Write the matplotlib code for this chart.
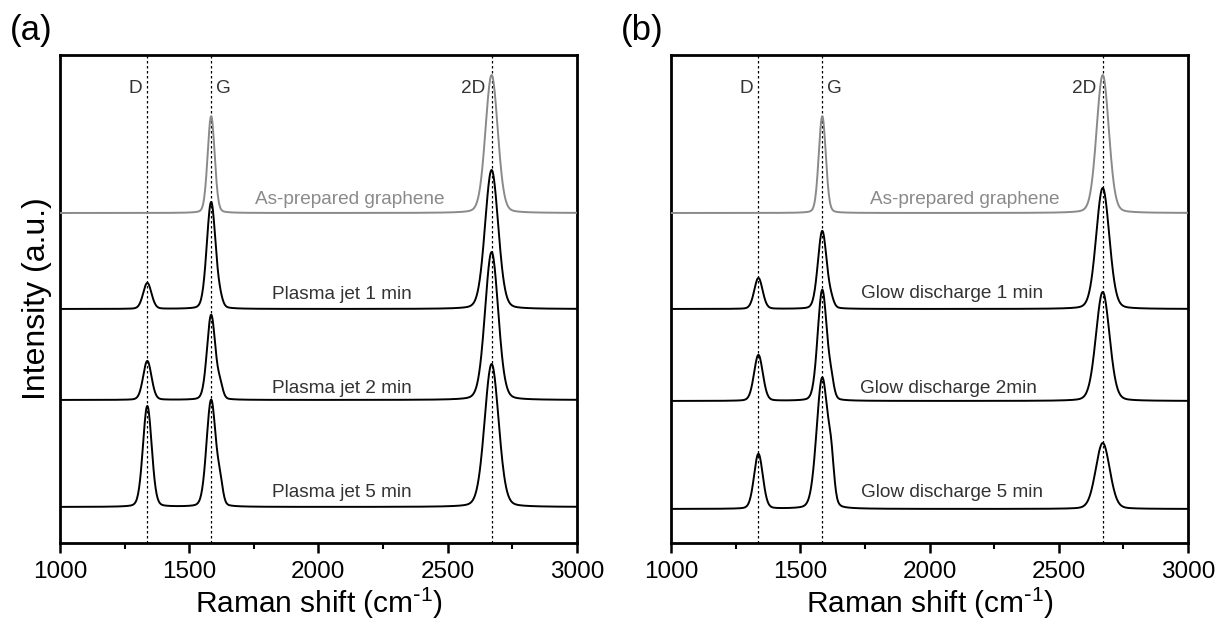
import numpy as np
import matplotlib
matplotlib.use("Agg")
import matplotlib.pyplot as plt

plt.rcParams['font.family'] = ['Liberation Sans', 'DejaVu Sans']
plt.rcParams['mathtext.default'] = 'regular'

# Raman shift grid (cm-1)
shift = np.arange(1000, 3001, 2)

# peak positions (cm-1)
peak_pos = [1338, 1585, 2670]
dprime_pos = 1620

# panel (a) - plasma jet
labels_a = ["As-prepared graphene", "Plasma jet 1 min", "Plasma jet 2 min", "Plasma jet 5 min"]
offset_a = [330, 234, 143, 36]
d_height_a = [0, 26, 39, 101]
g_height_a = [97, 107, 85, 107]
dp_height_a = [0, 6, 12, 18]
d2_height_a = [138, 139, 148, 143]
d_width_a = [36, 38, 38, 40]
g_width_a = [32, 40, 38, 42]
d2_width_a = [56, 60, 60, 64]
label_x_a = [2122, 2091, 2091, 2091]
label_y_a = [339, 244, 150, 46]

# panel (b) - glow discharge
labels_b = ["As-prepared graphene", "Glow discharge 1 min", "Glow discharge 2min", "Glow discharge 5 min"]
offset_b = [330, 234, 142, 34]
d_height_b = [0, 31, 46, 55]
g_height_b = [97, 78, 111, 131]
dp_height_b = [0, 6, 14, 30]
d2_height_b = [138, 121, 109, 66]
d_width_b = [36, 38, 40, 40]
g_width_b = [32, 40, 42, 52]
d2_width_b = [56, 60, 62, 64]
label_x_b = [2137, 2087, 2072, 2087]
label_y_b = [339, 245, 150, 46]

curve_colors = ["#8a8a8a", "black", "black", "black"]
text_colors = ["#8a8a8a", "#333333", "#333333", "#333333"]


def peak(x, c, h, w):
    # mostly gaussian line shape with a little lorentzian
    g = np.exp(-4 * np.log(2) * ((x - c) / w) ** 2)
    lz = 1 / (1 + 4 * ((x - c) / w) ** 2)
    return h * (0.85 * g + 0.15 * lz)


fig = plt.figure(figsize=(12.21, 6.28), dpi=100)
ax_a = fig.add_axes([0.0491, 0.1354, 0.4234, 0.777])
ax_b = fig.add_axes([0.5496, 0.1354, 0.4234, 0.777])

panels = [
    (ax_a, "(a)", labels_a, offset_a, d_height_a, g_height_a, dp_height_a, d2_height_a,
     d_width_a, g_width_a, d2_width_a, label_x_a, label_y_a),
    (ax_b, "(b)", labels_b, offset_b, d_height_b, g_height_b, dp_height_b, d2_height_b,
     d_width_b, g_width_b, d2_width_b, label_x_b, label_y_b),
]

for ax, tag, labels, offs, dh, gh, dph, d2h, dw, gw, d2w, lx, ly in panels:
    for c in peak_pos:
        ax.axvline(c, color="black", ls=(0, (2, 2)), lw=0.9, zorder=1)
    for i in range(4):
        y = (offs[i]
             + peak(shift, peak_pos[0], dh[i], dw[i])
             + peak(shift, peak_pos[1], gh[i], gw[i])
             + peak(shift, dprime_pos, dph[i], 25)
             + peak(shift, peak_pos[2], d2h[i], d2w[i]))
        ax.plot(shift, y, color=curve_colors[i], lw=1.4, zorder=3)
        ax.text(lx[i], ly[i], labels[i], color=text_colors[i], fontsize=13.7,
                ha="center", va="baseline", zorder=4)

    ax.text(peak_pos[0] - 20, 455, "D", fontsize=13.7, color="#333333", ha="right", va="center")
    ax.text(peak_pos[1] + 20, 455, "G", fontsize=13.7, color="#333333", ha="left", va="center")
    ax.text(peak_pos[2] - 25, 455, "2D", fontsize=13.7, color="#333333", ha="right", va="center")

    ax.set_xlim(1000, 3000)
    ax.set_ylim(0, 488)
    ax.set_xticks([1000, 1500, 2000, 2500, 3000])
    ax.set_xticks([1250, 1750, 2250, 2750], minor=True)
    ax.tick_params(axis="x", which="major", direction="out", length=7, width=1.8, labelsize=17.5, pad=6)
    ax.tick_params(axis="x", which="minor", direction="out", length=4.5, width=1.5)
    ax.set_yticks([])
    for s in ax.spines.values():
        s.set_linewidth(2)
    ax.set_xlabel(r"Raman shift (cm$^{\text{-}1}$)", fontsize=21.5, labelpad=2)
    ax.text(-0.097, 1.051, tag, transform=ax.transAxes, fontsize=25, ha="left", va="center")

ax_a.set_ylabel("Intensity (a.u.)", fontsize=23, labelpad=6)

fig.savefig("out.png", dpi=100)
